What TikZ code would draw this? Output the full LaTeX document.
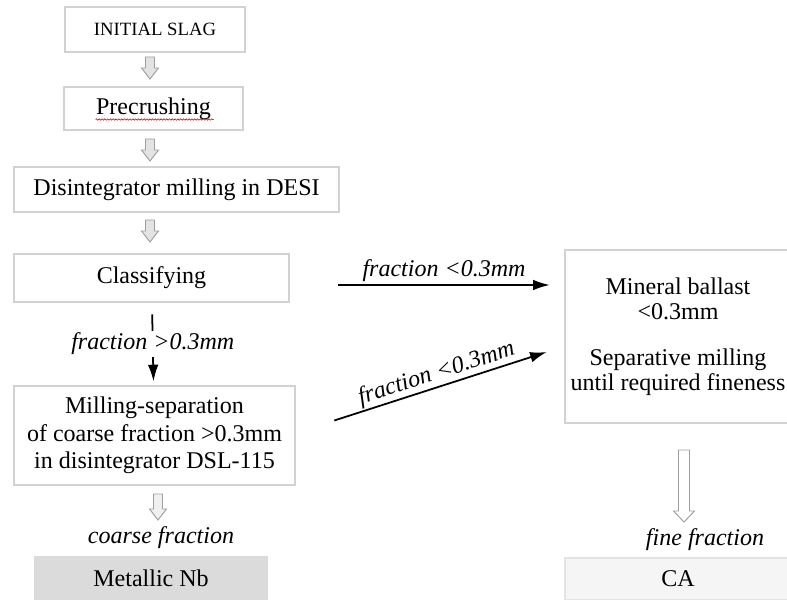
\documentclass[tikz,border=0pt]{standalone}
\usepackage{fontspec}
\setmainfont{Liberation Serif}
\usetikzlibrary{calc,arrows.meta,decorations.pathmorphing}

\tikzset{
  stage/.style={draw=gray!35, line width=2.2pt, fill=white, align=center,
    font=\fontsize{20.5}{23.5}\selectfont, inner sep=0pt},
  result/.style={align=center, font=\fontsize{20.5}{23.5}\selectfont, inner sep=0pt},
  tag/.style={font=\fontsize{20.5}{23.5}\selectfont\itshape, inner sep=2pt},
  flow/.style={line width=1.5pt, -{Latex[length=5mm,width=3.2mm]}},
  hollow/.style={draw=gray!75, line width=0.8pt, line join=miter}
}

% hollow block arrow: centre, length, fill, shaft half width, head half width
\newcommand{\hollowarrow}[5]{%
  \draw[hollow, fill=#3] ($(#1)+(-#4,-#2/2)$) -- ++(2*#4,0) -- ++(0,#2-11)
    -- ++(#5-#4,0) -- ++(-#5,11) -- ++(-#5,-11) -- ++(#5-#4,0) -- cycle;}

\begin{document}
\begin{tikzpicture}[x=0.03cm,y=-0.03cm]
  \useasboundingbox (0,0) rectangle (787,600);
  \clip (0,0) rectangle (787,600);

  % left column
  \node[stage, minimum width=5.4cm, minimum height=1.35cm,
    font=\fontsize{16}{19}\selectfont] (slag) at (155,29.5) {INITIAL SLAG};
  \node[stage, minimum width=5.37cm, minimum height=1.29cm] (crush) at (153.5,108.5) {Precrushing};
  \node[stage, minimum width=9.75cm, minimum height=1.35cm] (desi) at (176.5,189.5) {Disintegrator milling in DESI};
  \node[stage, minimum width=8.25cm, minimum height=1.44cm] (classify) at (151.5,278) {Classifying};
  \node[stage, minimum width=8.43cm, minimum height=2.97cm] (milling) at (154.5,435.5)
    {Milling-separation\\ of coarse fraction >0.3mm\\ in disintegrator DSL-115};
  \node[result, fill=gray!28, minimum width=7.02cm, minimum height=1.32cm] (nb) at (151,578) {Metallic Nb};

  % right column
  \node[stage, minimum width=6.78cm, minimum height=5.19cm,
    font=\fontsize{20.5}{21.5}\selectfont] (ballast) at (678,336.5)
    {Mineral ballast\\ <0.3mm\\[0.62cm] Separative milling\\ until required fineness};
  \node[result, draw=gray!22, line width=1pt, fill=gray!8, minimum width=6.78cm,
    minimum height=1.26cm] (ca) at (678,579) {CA};

  % spell-check underline
  \draw[red!85!black, line width=0.5pt, decorate,
    decoration={snake, amplitude=0.6pt, segment length=2.4pt}]
    ([shift={(-58,11)}]crush.center) -- ([shift={(60,11)}]crush.center);

  % hollow arrows
  \coordinate (h1) at (150,68);
  \coordinate (h2) at (150,150);
  \coordinate (h3) at (150,231);
  \coordinate (h4) at (158,507);
  \coordinate (h5) at (684,486);
  \hollowarrow{h1}{22}{gray!22}{4.5}{8.5}
  \hollowarrow{h2}{22}{gray!22}{4.5}{8.5}
  \hollowarrow{h3}{22}{gray!22}{4.5}{8.5}
  \hollowarrow{h4}{26}{gray!12}{4.5}{8.5}
  \hollowarrow{h5}{72}{white}{5.5}{10.5}

  \node[tag] (coarse) at (161,538) {coarse fraction};
  \node[tag] (fine) at (705,540) {fine fraction};

  % connectors
  \draw[flow, shorten <=0.33cm, shorten >=0.1cm] (classify) -- node[tag, fill=white] {fraction >0.3mm} (milling);
  \draw[flow] ([shift={(48,7)}]classify.east) -- node[tag, above] {fraction <0.3mm}
    ([shift={(-14,-51.5)}]ballast.west);
  \draw[flow] ([shift={(38,-15)}]milling.east) -- node[tag, above, sloped, inner sep=1pt] {fraction <0.3mm}
    ([shift={(-17,15.5)}]ballast.west);
\end{tikzpicture}
\end{document}
